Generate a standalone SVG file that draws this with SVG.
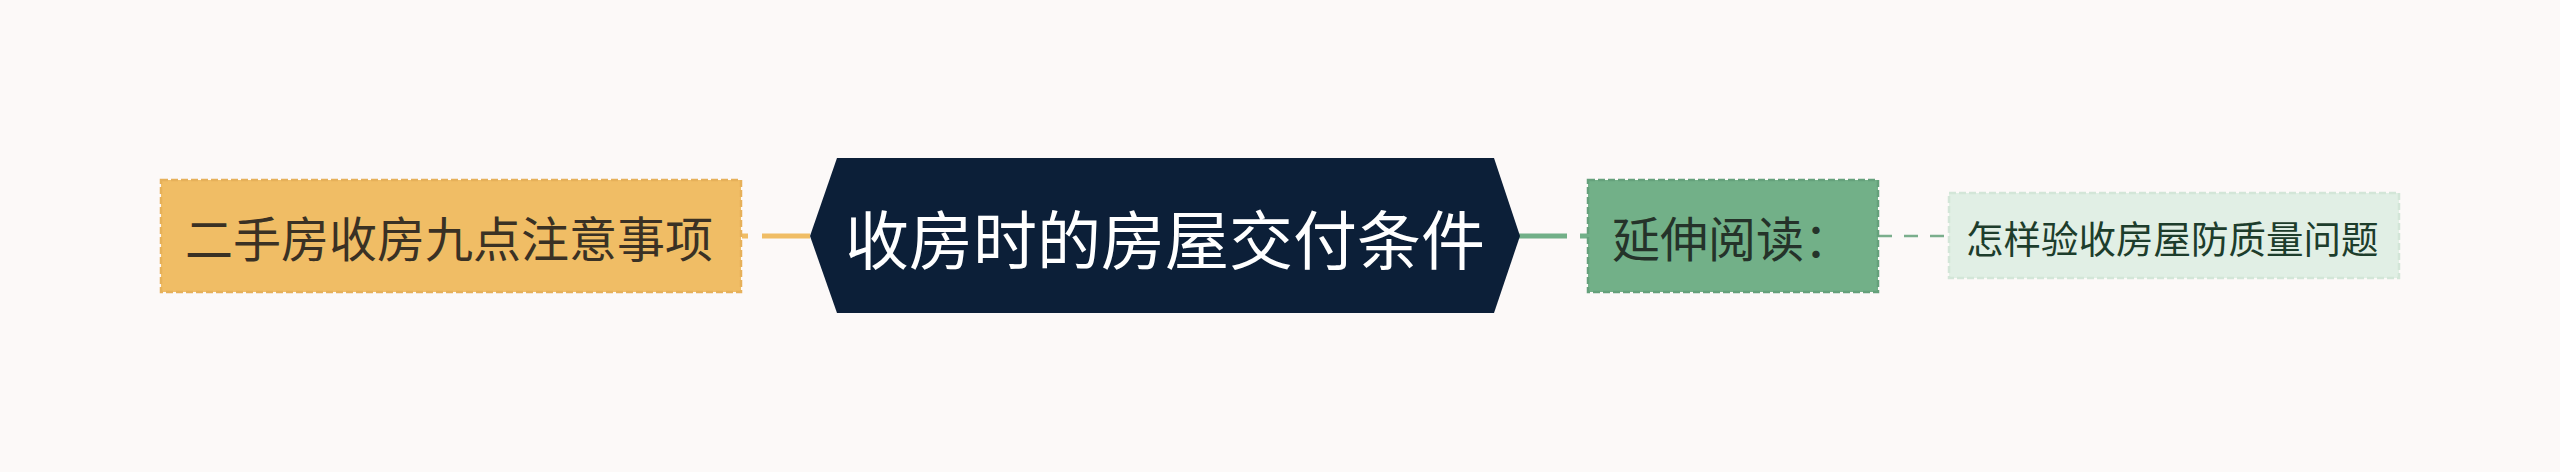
<svg xmlns="http://www.w3.org/2000/svg" width="2560" height="472" viewBox="0 0 2560 472">
<style>
.t{font-family:"Noto Sans CJK SC","Noto Sans",sans-serif;dominant-baseline:central}
.box{stroke-width:2.5;stroke-dasharray:7 3}
</style>
<rect x="0" y="0" width="2560" height="472" fill="#fcf9f8"/>
<g id="connectors" fill="none">
<line x1="810" y1="236" x2="742" y2="236" stroke="#f0bd65" stroke-width="5" stroke-dasharray="48 14"/>
<line x1="1519" y1="236" x2="1588" y2="236" stroke="#72b088" stroke-width="5" stroke-dasharray="48 13"/>
<line x1="1878" y1="236" x2="1948" y2="236" stroke="#7aae8c" stroke-width="2.5" stroke-dasharray="14 12"/>
</g>
<g id="node-left">
<rect class="box" x="161" y="180" width="580" height="112" fill="#f0bd65" stroke="#e6b15a"/>
<text class="t" x="185" y="236" font-size="48" fill="#3a3124">二手房收房九点注意事项</text>
</g>
<g id="node-center">
<polygon points="810,236 837,158 1494,158 1520,236 1494,313 837,313" fill="#0c1f38"/>
<text class="t" x="1165" y="236" font-size="64" fill="#ffffff" text-anchor="middle">收房时的房屋交付条件</text>
</g>
<g id="node-read">
<rect class="box" x="1588" y="180" width="290" height="112" fill="#72b088" stroke="#65a17b"/>
<text class="t" x="1612" y="236" font-size="48" fill="#25332a">延伸阅读：</text>
</g>
<g id="node-link">
<rect class="box" x="1949" y="193" width="450" height="85" fill="#e1efe5" stroke="#d3e6d8"/>
<text class="t" x="1966" y="236" font-size="37.5" fill="#1d3d2c">怎样验收房屋防质量问题</text>
</g>
</svg>
